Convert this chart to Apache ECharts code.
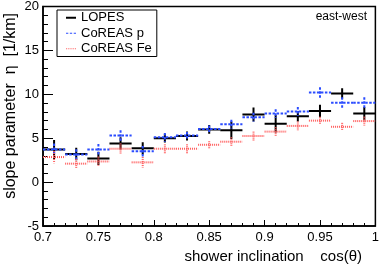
<!DOCTYPE html>
<html><head><meta charset="utf-8">
<script src="https://cdn.jsdelivr.net/npm/echarts@6/dist/echarts.min.js"></script>
<style>html,body{margin:0;padding:0;background:#fff}#c{width:382px;height:266px}</style>
</head><body><div id="c"></div>
<script>
// bin centres in cos(theta), bin half width 0.01
const cosCenters = [0.71,0.73,0.75,0.77,0.79,0.81,0.83,0.85,0.87,0.89,0.91,0.93,0.95,0.97,0.99];
const binHalfWidth = 0.01;
const lopes    = [3.7, 3.2, 2.7, 4.4, 3.85, 5.0, 5.25, 6.0, 5.9, 7.7, 6.65, 7.5, 8.1, 10.1, 7.8];
const lopesErr = [1.1, 0.7, 0.75, 0.7, 0.7, 0.5, 0.5, 0.5, 1.0, 0.8, 1.0, 0.6, 0.7, 0.6, 0.75];
const coreasP    = [3.7, 3.15, 3.7, 5.3, 3.5, 5.1, 5.3, 6.05, 6.6, 7.4, 7.8, 8.05, 10.2, 9.05, 9.05];
const coreasPErr = [0.7, 0.6, 0.65, 0.6, 0.6, 0.5, 0.4, 0.4, 0.5, 0.5, 0.5, 0.5, 0.6, 0.6, 0.6];
const coreasFe    = [2.85, 2.1, 2.35, 3.8, 2.25, 3.8, 3.8, 4.25, 4.6, 5.25, 5.75, 6.4, 7.0, 6.3, 6.95];
const coreasFeErr = [0.7, 0.55, 0.55, 0.6, 0.6, 0.5, 0.5, 0.4, 0.5, 0.5, 0.5, 0.5, 0.45, 0.45, 0.5];
const xTicks = {min: 0.7, max: 1.0, step: 0.05};
const yTicks = {min: -5, max: 20, step: 5};

const FONT = 'Liberation Sans, Arial, sans-serif';

function mk(vals, errs) { return cosCenters.map((c, i) => [c, vals[i], errs[i]]); }

function errSeries(name, vals, errs, color, dash, width) {
  return {
    name: name, type: 'custom', clip: true,
    itemStyle: {color: color},
    encode: {x: 0, y: 1},
    data: mk(vals, errs),
    renderItem: function (params, api) {
      const c = api.value(0), v = api.value(1), e = api.value(2);
      const a = api.coord([c - binHalfWidth, v]);
      const b = api.coord([c + binHalfWidth, v]);
      const t = api.coord([c, v + e]);
      const d = api.coord([c, v - e]);
      const style = {stroke: color, lineWidth: width, lineDash: dash, fill: null};
      return {type: 'group', children: [
        {type: 'line', shape: {x1: a[0], y1: a[1], x2: b[0], y2: b[1]}, style: style},
        {type: 'line', shape: {x1: t[0], y1: t[1], x2: d[0], y2: d[1]}, style: style}
      ]};
    }
  };
}

const chart = echarts.init(document.getElementById('c'));
chart.setOption({
  animation: false,
  backgroundColor: '#fff',
  grid: {left: 43, right: 6, top: 5, bottom: 40, show: true, borderColor: '#000', borderWidth: 1.5},
  xAxis: {
    type: 'value', min: xTicks.min, max: xTicks.max, interval: xTicks.step,
    axisLine: {onZero: false, lineStyle: {color: '#000', width: 1.5}},
    axisTick: {inside: true, length: 6, lineStyle: {color: '#000'}},
    minorTick: {show: true, splitNumber: 5, length: 3, lineStyle: {color: '#000'}},
    splitLine: {show: false},
    axisLabel: {color: '#000', fontFamily: FONT, fontSize: 13, margin: 5,
      formatter: v => String(+v.toFixed(2))}
  },
  yAxis: {
    type: 'value', min: yTicks.min, max: yTicks.max, interval: yTicks.step,
    axisLine: {onZero: false, lineStyle: {color: '#000', width: 1.5}},
    axisTick: {inside: true, length: 10, lineStyle: {color: '#000'}},
    minorTick: {show: true, splitNumber: 5, length: 5, lineStyle: {color: '#000'}},
    splitLine: {show: false},
    axisLabel: {color: '#000', fontFamily: FONT, fontSize: 13, margin: 4}
  },
  legend: {
    left: 57, top: 10, orient: 'vertical',
    padding: [0, 5, 0, 9], itemGap: 0,
    itemWidth: 10, itemHeight: 2,
    borderColor: '#000', borderWidth: 1,
    backgroundColor: '#fff',
    textStyle: {color: '#000', fontFamily: FONT, fontSize: 13, lineHeight: 15.5},
    data: [
      {name: 'LOPES', icon: 'rect', itemStyle: {color: '#000'}},
      {name: 'CoREAS p', icon: 'path://M0,0h3v1h-3z M5,0h3v1h-3z M10,0h3v1h-3z', itemStyle: {color: '#2b4cff'}},
      {name: 'CoREAS Fe', icon: 'path://M0,0h1v1h-1z M2,0h1v1h-1z M4,0h1v1h-1z M6,0h1v1h-1z M8,0h1v1h-1z M10,0h1v1h-1z', itemStyle: {color: '#ff5a5a'}}
    ]
  },
  graphic: [
    {type: 'text', right: 15, top: 11, style: {text: 'east-west', fill: '#000', font: '12px ' + FONT}},
    {type: 'text', x: 362, y: 257, style: {text: 'shower inclination    cos(θ)', fill: '#000', font: '15px ' + FONT, textAlign: 'right', textVerticalAlign: 'middle'}},
    {type: 'text', x: 11, y: 13, rotation: Math.PI / 2, style: {text: 'slope parameter  η  [1/km]', fill: '#000', font: '16px ' + FONT, textAlign: 'right', textVerticalAlign: 'middle'}}
  ],
  series: [
    errSeries('LOPES', lopes, lopesErr, '#000', null, 2),
    errSeries('CoREAS p', coreasP, coreasPErr, '#2b4cff', [2.5, 1.5], 2),
    errSeries('CoREAS Fe', coreasFe, coreasFeErr, '#ff5a5a', [1, 1], 2)
  ]
});
</script></body></html>
